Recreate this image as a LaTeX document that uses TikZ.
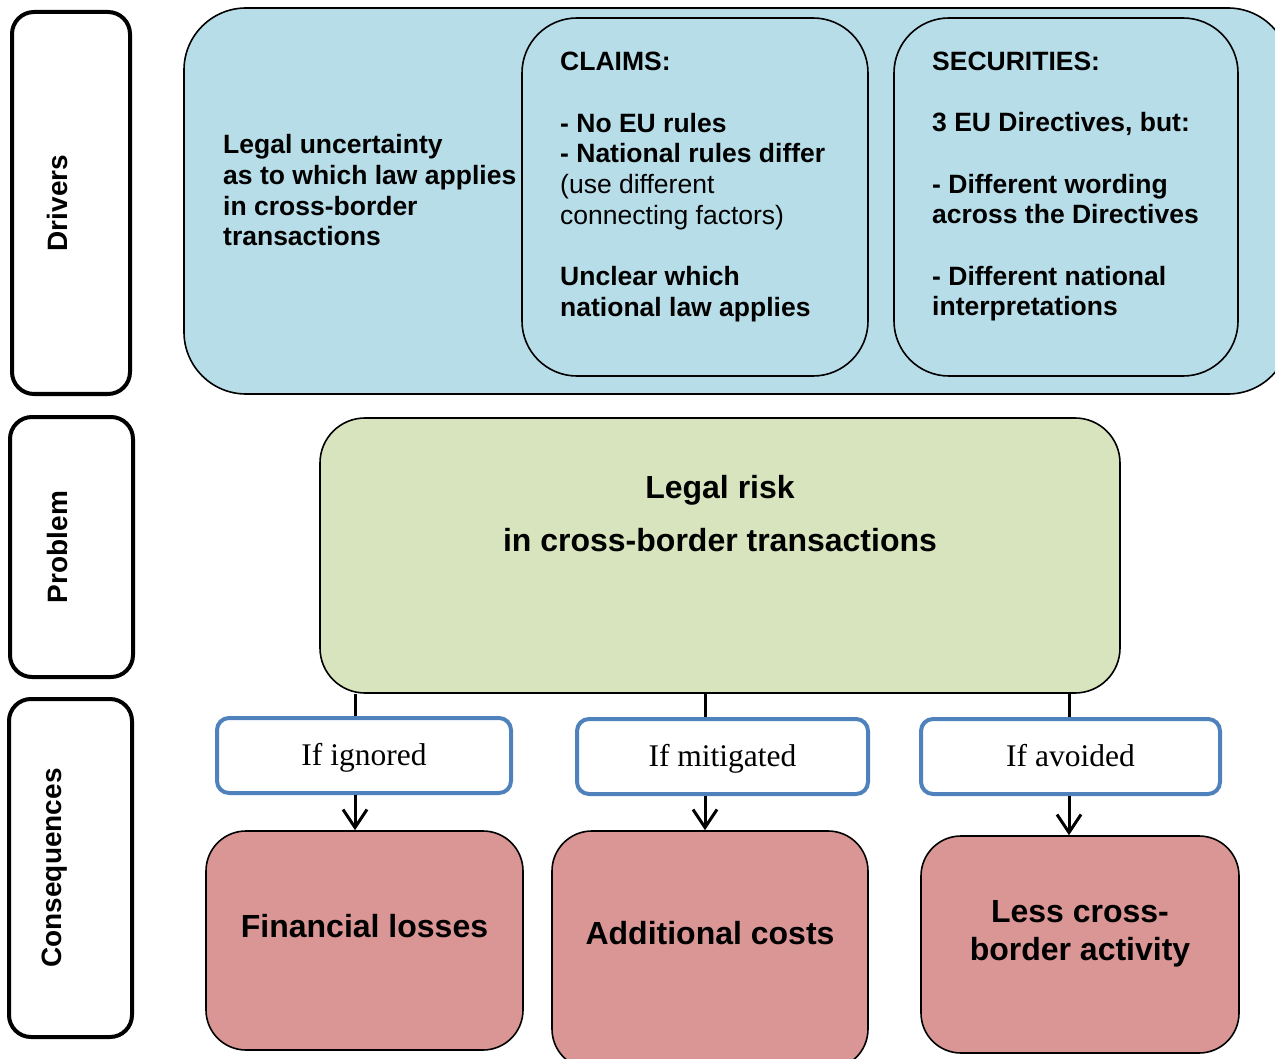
\documentclass[tikz,border=0pt]{standalone}
\usepackage{fontspec}
\setmainfont{Liberation Sans}
\newfontfamily\serifface{Liberation Serif}
\usetikzlibrary{arrows.meta}
\definecolor{drvblue}{HTML}{B7DDE8}
\definecolor{probgreen}{HTML}{D7E4BD}
\definecolor{consred}{HTML}{D99694}
\definecolor{ifblue}{HTML}{4F81BD}
\begin{document}
\begin{tikzpicture}[x=1pt,y=-1pt,
  sidebox/.style={draw=black,line width=4pt,rounded corners=22pt,fill=white,inner sep=0pt},
  sidelabel/.style={rotate=90,font=\fontsize{28}{32}\selectfont\bfseries},
  bluebox/.style={draw=black,line width=1.6pt,fill=drvblue,inner sep=0pt},
  greenbox/.style={draw=black,line width=1.6pt,fill=probgreen,rounded corners=45pt,inner sep=0pt},
  redbox/.style={draw=black,line width=1.6pt,fill=consred,rounded corners=40pt,inner sep=0pt},
  ifbox/.style={draw=ifblue,line width=4pt,fill=white,rounded corners=12pt,inner sep=0pt,minimum height=75pt},
  iftext/.style={font=\serifface\fontsize{31.5}{36}\selectfont,anchor=base},
  drvtext/.style={align=left,anchor=base west,inner sep=0pt,font=\fontsize{26.5}{30.7}\selectfont\bfseries},
  bigtext/.style={align=center,anchor=base,inner sep=0pt,font=\fontsize{32}{38}\selectfont\bfseries},
  conn/.style={draw=black,line width=3pt},
  arr/.style={conn,-{Straight Barb[length=18pt,width=24pt,line width=3pt]}}
]
\useasboundingbox (0,0) rectangle (1275,1059);
\clip (0,0) rectangle (1275,1059);

% side labels
\node[sidebox,minimum width=118pt,minimum height=382pt] (sdrv) at (71,203) {};
\node[sidelabel] (ldrv) at (57,203) {Drivers};
\node[sidebox,minimum width=123pt,minimum height=260pt] (sprob) at (71.5,547) {};
\node[sidelabel] (lprob) at (57,547) {Problem};
\node[sidebox,minimum width=123pt,minimum height=338pt] (scons) at (70.5,868) {};
\node[sidelabel] (lcons) at (55,868) {Consequences};

% drivers
\node[bluebox,rounded corners=62pt,minimum width=1106pt,minimum height=386pt] (drv) at (737,201) {};
\node[bluebox,rounded corners=55pt,minimum width=346pt,minimum height=358pt] (claims) at (695,197) {};
\node[bluebox,rounded corners=55pt,minimum width=344pt,minimum height=358pt] (secs) at (1066,197) {};

% (base anchor of a multi-line node = baseline of its last line)
\node[drvtext] (tunc) at (223,246) {Legal uncertainty\\as to which law applies\\in cross-border\\transactions};
\node[drvtext] (tclaims) at (560,316.5) {CLAIMS:\\[30.7pt]- No EU rules\\- National rules differ\\{\mdseries (use different}\\{\mdseries connecting factors)}\\[30.7pt]Unclear which\\national law applies};
\node[drvtext] (tsecs) at (932,316) {SECURITIES:\\[30.7pt]3 EU Directives, but:\\[30.7pt]- Different wording\\across the Directives\\[30.7pt]- Different national\\interpretations};

% problem
\node[greenbox,minimum width=800pt,minimum height=275pt] (prob) at (720,555.5) {};
\node[bigtext] (tprob1) at (720,498) {Legal risk};
\node[bigtext] (tprob2) at (720,551) {in cross-border transactions};

% if boxes
\node[ifbox,minimum width=294pt] (ign) at (364,755.5) {};
\node[iftext] (tign) at (364,765) {If ignored};
\node[ifbox,minimum width=291pt] (mit) at (722.5,756.5) {};
\node[iftext] (tmit) at (722.5,766) {If mitigated};
\node[ifbox,minimum width=299pt] (avo) at (1070.5,756.5) {};
\node[iftext] (tavo) at (1070.5,766) {If avoided};

% consequences
\node[redbox,minimum width=317pt,minimum height=219pt] (fin) at (364.5,940.5) {};
\node[bigtext] (tfin) at (364.5,937) {Financial losses};
\node[redbox,minimum width=316pt,minimum height=238pt] (add) at (710,950) {};
\node[bigtext] (tadd) at (710,944) {Additional costs};
\node[redbox,minimum width=318pt,minimum height=217pt] (less) at (1080,944.5) {};
\node[bigtext] (tless1) at (1080,922) {Less cross-};
\node[bigtext] (tless2) at (1080,960) {border activity};

% connectors
\coordinate (c1) at (355,0);
\coordinate (c2) at (705,0);
\coordinate (c3) at (1069,0);
\draw[conn] (prob.south -| c1) -- (ign.north -| c1);
\draw[arr] (ign.south -| c1) -- (fin.north -| c1);
\draw[conn] (prob.south -| c2) -- (mit.north -| c2);
\draw[arr] (mit.south -| c2) -- (add.north -| c2);
\draw[conn] (prob.south -| c3) -- (avo.north -| c3);
\draw[arr] (avo.south -| c3) -- (less.north -| c3);
\end{tikzpicture}
\end{document}
